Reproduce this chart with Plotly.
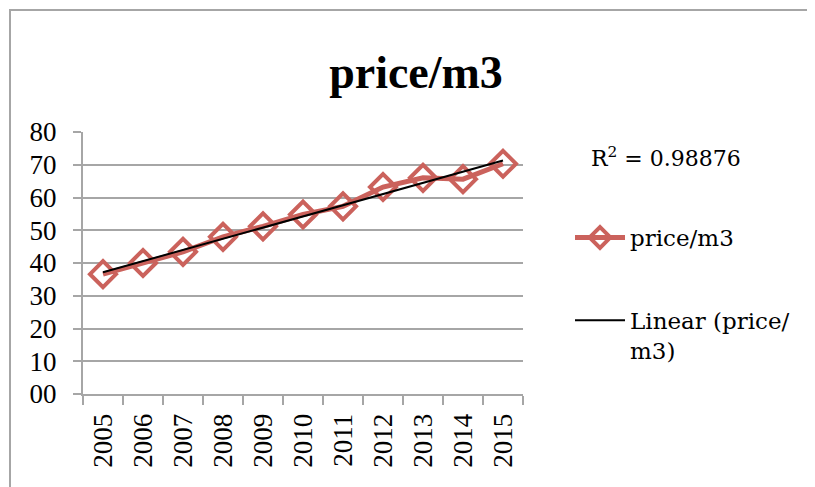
import plotly.graph_objects as go

years = ["2005", "2006", "2007", "2008", "2009", "2010", "2011", "2012", "2013", "2014", "2015"]
price = [36.6, 40.0, 43.4, 48.0, 51.2, 54.8, 57.3, 63.2, 66.0, 65.6, 70.3]
y_ticks = [0, 10, 20, 30, 40, 50, 60, 70, 80]
y_ticktext = ["00", "10", "20", "30", "40", "50", "60", "70", "80"]
r2_text = "R<sup>2</sup> = 0.98876"

# linear trend fitted to the data
n = len(price)
xs = list(range(n))
mx = sum(xs) / n
my = sum(price) / n
slope = sum((x - mx) * (y - my) for x, y in zip(xs, price)) / sum((x - mx) ** 2 for x in xs)
icpt = my - slope * mx
trend = [icpt + slope * x for x in xs]

RED = "#CB625C"
GRID = "#A6A6A6"

# page offset of 8px (body margin) taken into account
L, T, PW, PH = 75, 124, 440, 262

fig = go.Figure()
fig.add_trace(go.Scatter(
    x=years, y=price, mode="lines+markers", name="price/m3",
    line=dict(color=RED, width=5),
    marker=dict(symbol="diamond-open", size=20, color=RED, line=dict(width=4, color=RED)),
    legendgroup="a",
))
fig.add_trace(go.Scatter(
    x=years, y=trend, mode="lines", name="Linear (price/<br>m3)",
    line=dict(color="black", width=2),
    legendgroup="b",
))

fig.update_layout(
    width=815, height=487,
    margin=dict(l=L, r=815 - L - PW, t=T, b=487 - T - PH, autoexpand=False),
    paper_bgcolor="white", plot_bgcolor="white",
    title=dict(text="<b>price/m3</b>", x=408 / 815, xanchor="center", y=1 - 64 / 487, yanchor="middle",
               font=dict(family="Liberation Serif", size=46, color="black")),
    font=dict(family="Liberation Serif", color="black"),
    showlegend=True,
    legend=dict(x=(562 - L) / PW, xanchor="left", y=(T + PH - 208) / PH, yanchor="top", traceorder="grouped",
                tracegroupgap=50, valign="top", bgcolor="rgba(0,0,0,0)", itemwidth=50,
                font=dict(family="DejaVu Serif", size=23, color="black")),
    xaxis=dict(type="category", tickson="boundaries", ticks="outside", ticklen=9, tickwidth=2,
               tickcolor=GRID, showline=True, linecolor=GRID, linewidth=2, showgrid=False,
               tickangle=-90, tickfont=dict(family="Liberation Serif", size=27, color="black"),
               ticklabelstandoff=7, range=[-0.5, 10.5]),
    yaxis=dict(range=[0, 80], tickvals=y_ticks, ticktext=y_ticktext, ticks="outside", ticklen=8,
               tickwidth=2, tickcolor=GRID, showline=True, linecolor=GRID, linewidth=2,
               showgrid=True, gridcolor=GRID, gridwidth=2, zeroline=False, ticklabelstandoff=11,
               tickfont=dict(family="Liberation Serif", size=27, color="black")),
    annotations=[dict(text=r2_text, xref="paper", yref="paper", x=(581 - L) / PW, y=(T + PH - 149) / PH,
                      xanchor="left", yanchor="middle", showarrow=False,
                      font=dict(family="DejaVu Serif", size=22, color="black"))],
    shapes=[dict(type="rect", xref="paper", yref="paper", x0=(2 - L) / PW, x1=2.5,
                 y0=-1, y1=(T + PH - 2) / PH, line=dict(color=GRID, width=2), layer="below")],
)

fig.write_html("out.html")
